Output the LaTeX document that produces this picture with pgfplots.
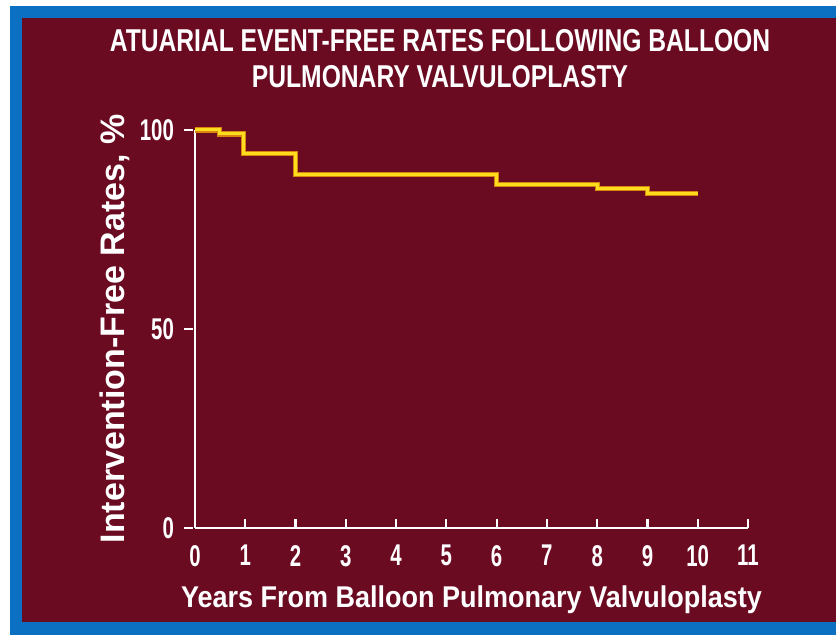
\documentclass[border=0pt]{standalone}
\usepackage{fontspec}
\setmainfont{Liberation Sans}
\newfontfamily\condensed{Liberation Sans}[FakeStretch=0.78]
\newfontfamily\narrowdigits{Liberation Sans}[FakeStretch=0.68]
\newfontfamily\labelfont{Liberation Sans}[FakeStretch=0.9]
\usepackage{pgfplots}
\pgfplotsset{compat=1.18}

\definecolor{slidebg}{HTML}{6A0B22}
\definecolor{slideblue}{HTML}{0B70C2}
\definecolor{kmline}{HTML}{FFDC1E}
\definecolor{kmglow}{HTML}{D9860E}

\begin{document}
\begin{tikzpicture}[x=0.5pt,y=0.5pt]
% slide frame (1 unit = 1 px of the reference, y measured from the bottom)
\fill[white] (0,0) rectangle (836,635);
\useasboundingbox (0,0) rectangle (836,635);
\fill[slideblue] (10,0) rectangle (836,629);
\fill[slidebg] (22,13) rectangle (836,617);

% title
\node[white, anchor=base, font=\condensed\bfseries\fontsize{15.8}{18}\selectfont] at (440,583) {ATUARIAL EVENT-FREE RATES FOLLOWING BALLOON};
\node[white, anchor=base, font=\condensed\bfseries\fontsize{15.8}{18}\selectfont] at (440,547) {PULMONARY VALVULOPLASTY};

\begin{axis}[
    at={(97.5pt,53.5pt)}, anchor=south west,
    scale only axis,
    width=276.5pt, height=199pt,
    xmin=0, xmax=11, ymin=0, ymax=100,
    axis lines=left,
    axis line style={-, white, line width=1.2pt},
    xtick={0,1,...,11}, ytick={0,50,100},
    tick align=inside,
    major tick length=4.5pt,
    x tick style={white, line width=1.1pt},
    y tick style={white, line width=1.1pt, xshift=-5.5pt},
    /pgf/number format/assume math mode=true,
    ticklabel style={white, font=\narrowdigits\bfseries\fontsize{15}{17}\selectfont},
    xticklabel style={yshift=-5pt},
    yticklabel style={xshift=-7pt},
    xlabel={Years From Balloon Pulmonary Valvuloplasty},
    ylabel={Intervention-Free Rates, \%},
    label style={white},
    xlabel style={font=\labelfont\bfseries\fontsize{15}{17}\selectfont,
        at={(axis description cs:0.5,0)}, anchor=base, yshift=-40pt},
    ylabel style={font=\bfseries\fontsize{17}{19}\selectfont,
        at={(axis description cs:-0.1266,0.5)}, anchor=base},
    clip=false,
]
\addplot[kmglow, line width=2.6pt, const plot] coordinates {
    (0,100) (0.48,99) (0.97,94) (2,88.9) (6,86.3) (8,85.2) (9,84) (10,84)
};
\addplot[kmline, line width=1.5pt, const plot] coordinates {
    (0,100) (0.48,99) (0.97,94) (2,88.9) (6,86.3) (8,85.2) (9,84) (10,84)
};
\end{axis}
\end{tikzpicture}
\end{document}
